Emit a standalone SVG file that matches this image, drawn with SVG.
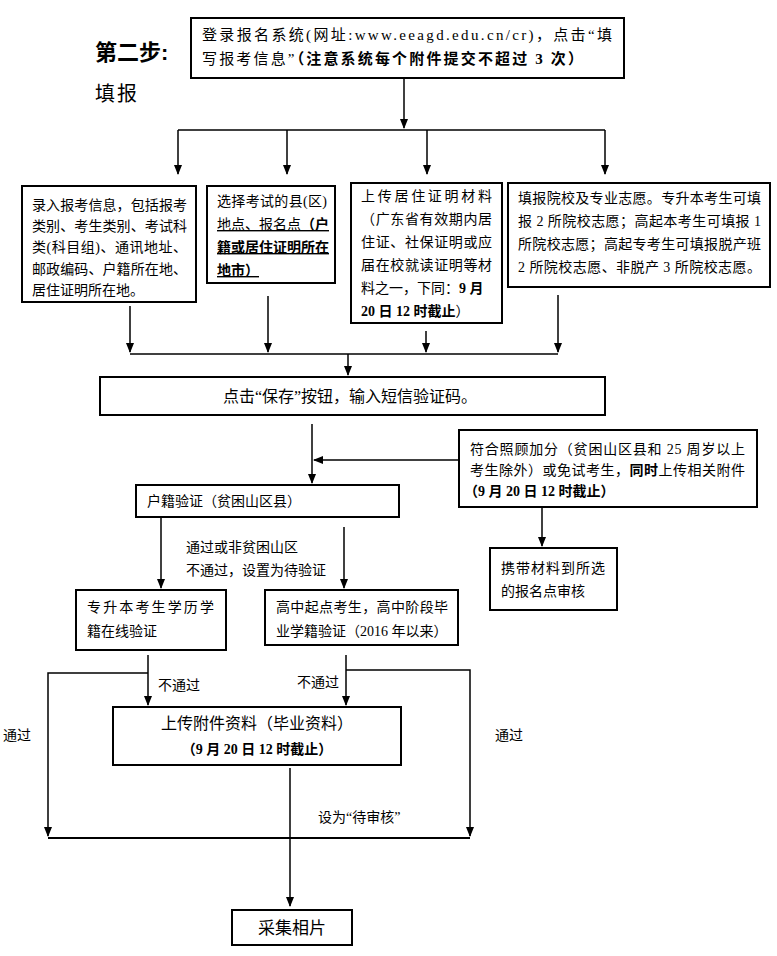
<svg xmlns="http://www.w3.org/2000/svg" width="777" height="956" viewBox="0 0 777 956">
<style>
text{font-family:"Liberation Serif","Noto Sans CJK SC",serif;font-size:14px;fill:#000}
.b{font-weight:bold}
.box{fill:#fff;stroke:#000;stroke-width:2}
.ln{stroke:#000;stroke-width:1.5;fill:none}
</style>
<defs>
<marker id="ar" markerWidth="10" markerHeight="10" refX="9" refY="5" orient="auto" markerUnits="userSpaceOnUse">
<path d="M0,1 L10,5 L0,9 z" fill="#000"/>
</marker>
</defs>
<rect width="777" height="956" fill="#fff"/>
<text x="95" y="60" class="b" style="font-size:22px;font-family:'Liberation Sans','Noto Sans CJK SC',sans-serif">第二步:</text>
<text x="95" y="101" style="font-size:20px" textLength="42" lengthAdjust="spacing">填报</text>

<g id="connectors">
<path class="ln" d="M404,78 V128" marker-end="url(#ar)"/>
<path class="ln" d="M178,130 H605"/>
<path class="ln" d="M178,130 V174" marker-end="url(#ar)"/>
<path class="ln" d="M287,130 V174" marker-end="url(#ar)"/>
<path class="ln" d="M427,130 V174" marker-end="url(#ar)"/>
<path class="ln" d="M605,130 V174" marker-end="url(#ar)"/>
<path class="ln" d="M130,306 V352" marker-end="url(#ar)"/>
<path class="ln" d="M268,296 V352" marker-end="url(#ar)"/>
<path class="ln" d="M426,331 V352" marker-end="url(#ar)"/>
<path class="ln" d="M558,295 V352" marker-end="url(#ar)"/>
<path class="ln" d="M130,354 H558"/>
<path class="ln" d="M348,354 V375" marker-end="url(#ar)"/>
<path class="ln" d="M312,424 V483" marker-end="url(#ar)"/>
<path class="ln" d="M459,460 H314" marker-end="url(#ar)"/>
<path class="ln" d="M542,507 V546" marker-end="url(#ar)"/>
<path class="ln" d="M161,517 V588" marker-end="url(#ar)"/>
<path class="ln" d="M344,527 V588" marker-end="url(#ar)"/>
<path class="ln" d="M148,655 V705" marker-end="url(#ar)"/>
<path class="ln" d="M346,655 V705" marker-end="url(#ar)"/>
<path class="ln" d="M148,673 H48 V836" marker-end="url(#ar)"/>
<path class="ln" d="M346,670 H470 V836" marker-end="url(#ar)"/>
<path class="ln" d="M48,838 H470" style="stroke-width:2"/>
<path class="ln" d="M290,768 V906" marker-end="url(#ar)"/>
<text x="158" y="690">不通过</text>
<text x="297" y="687">不通过</text>
<text x="3" y="740">通过</text>
<text x="495" y="740">通过</text>
<text x="318" y="822">设为“待审核”</text>
<text x="186" y="552">通过或非贫困山区</text>
<text x="186" y="575">不通过，设置为待验证</text>
</g>

<g id="n_login">
<rect class="box" x="191" y="18" width="433" height="60"/>
<text x="202" y="40" style="font-size:15px" textLength="410" lengthAdjust="spacing">登录报名系统(网址:www.eeagd.edu.cn/cr)，点击“填</text>
<text x="202" y="64" style="font-size:15px" textLength="381" lengthAdjust="spacing">写报考信息”<tspan class="b">（注意系统每个附件提交不超过 3 次）</tspan></text>
</g>

<g id="n_info">
<rect class="box" x="22" y="186" width="174" height="116"/>
<text x="32" y="210" textLength="155" lengthAdjust="spacing">录入报考信息，包括报考</text>
<text x="32" y="231" textLength="155" lengthAdjust="spacing">类别、考生类别、考试科</text>
<text x="32" y="252" textLength="155" lengthAdjust="spacing">类(科目组)、通讯地址、</text>
<text x="32" y="274" textLength="155" lengthAdjust="spacing">邮政编码、户籍所在地、</text>
<text x="32" y="295" textLength="112" lengthAdjust="spacing">居住证明所在地。</text>
</g>

<g id="n_county">
<rect class="box" x="207" y="186" width="128" height="97"/>
<text x="217" y="206" textLength="110" lengthAdjust="spacing">选择考试的县(区)</text>
<text x="217" y="229" text-decoration="underline">地点、报名点<tspan class="b">（户</tspan></text>
<text x="217" y="252" class="b" text-decoration="underline">籍或居住证明所在</text>
<text x="217" y="275" class="b" text-decoration="underline">地市）</text>
</g>

<g id="n_residence">
<rect class="box" x="351" y="183" width="151" height="140"/>
<text x="361" y="201" textLength="131" lengthAdjust="spacing">上传居住证明材料</text>
<text x="361" y="224" textLength="131" lengthAdjust="spacing">（广东省有效期内居</text>
<text x="361" y="247" textLength="131" lengthAdjust="spacing">住证、社保证明或应</text>
<text x="361" y="270" textLength="131" lengthAdjust="spacing">届在校就读证明等材</text>
<text x="361" y="293">料之一，下同：<tspan class="b">9 月</tspan></text>
<text x="361" y="316"><tspan class="b">20 日 12 时截止</tspan>）</text>
</g>

<g id="n_wish">
<rect class="box" x="508" y="183" width="262" height="104"/>
<text x="518" y="203" textLength="243" lengthAdjust="spacing">填报院校及专业志愿。专升本考生可填</text>
<text x="518" y="226" textLength="243" lengthAdjust="spacing">报 2 所院校志愿；高起本考生可填报 1</text>
<text x="518" y="249" textLength="243" lengthAdjust="spacing">所院校志愿；高起专考生可填报脱产班</text>
<text x="518" y="272" textLength="243" lengthAdjust="spacing">2 所院校志愿、非脱产 3 所院校志愿。</text>
</g>

<g id="n_save">
<rect class="box" x="100" y="377" width="505" height="38"/>
<text x="350" y="402" text-anchor="middle" style="font-size:16px">点击“保存”按钮，输入短信验证码。</text>
</g>

<g id="n_bonus">
<rect class="box" x="459" y="430" width="298" height="77"/>
<text x="470" y="454" textLength="275" lengthAdjust="spacing">符合照顾加分（贫困山区县和 25 周岁以上</text>
<text x="470" y="475" textLength="275" lengthAdjust="spacing">考生除外）或免试考生，<tspan class="b">同时</tspan>上传相关附件</text>
<text x="464" y="496" class="b">（9 月 20 日 12 时截止）</text>
</g>

<g id="n_hukou">
<rect class="box" x="136" y="485" width="263" height="32"/>
<text x="147" y="506">户籍验证（贫困山区县）</text>
</g>

<g id="n_bring">
<rect class="box" x="490" y="548" width="127" height="62"/>
<text x="501" y="573" textLength="104" lengthAdjust="spacing">携带材料到所选</text>
<text x="501" y="596">的报名点审核</text>
</g>

<g id="n_zsb">
<rect class="box" x="76" y="590" width="150" height="60"/>
<text x="87" y="612" textLength="127" lengthAdjust="spacing">专升本考生学历学</text>
<text x="87" y="636">籍在线验证</text>
</g>

<g id="n_gz">
<rect class="box" x="265" y="590" width="193" height="55"/>
<text x="276" y="612" textLength="172" lengthAdjust="spacing">高中起点考生，高中阶段毕</text>
<text x="276" y="636">业学籍验证（2016 年以来）</text>
</g>

<g id="n_upload">
<rect class="box" x="113" y="707" width="288" height="58"/>
<text x="257" y="729" text-anchor="middle" style="font-size:16px">上传附件资料（毕业资料）</text>
<text x="257" y="754" text-anchor="middle" class="b">（9 月 20 日 12 时截止）</text>
</g>

<g id="n_photo">
<rect class="box" x="232" y="910" width="120" height="35"/>
<text x="292" y="934" text-anchor="middle" style="font-size:17px">采集相片</text>
</g>
</svg>
